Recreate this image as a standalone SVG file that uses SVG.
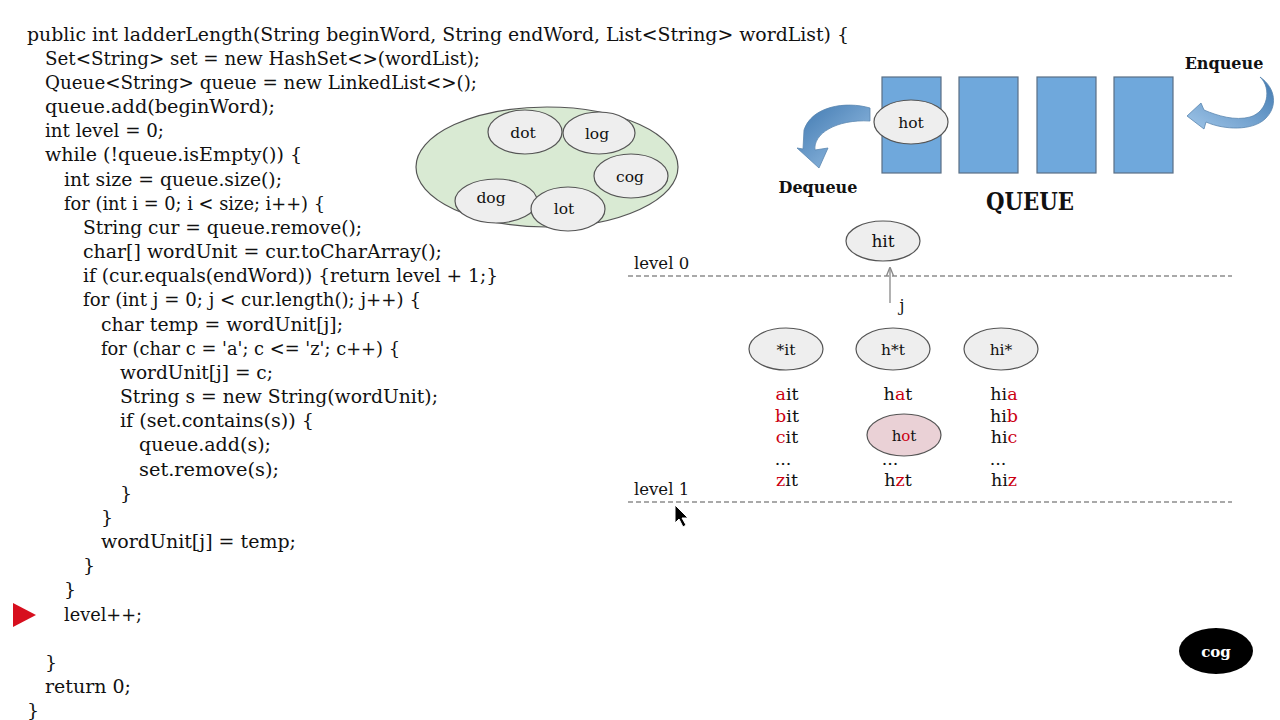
<svg xmlns="http://www.w3.org/2000/svg" width="1280" height="720" viewBox="0 0 1280 720">
<style>
.code{font-family:"DejaVu Serif","Liberation Serif",serif;font-size:19px;fill:#111}
.lbl{font-family:"DejaVu Serif","Liberation Serif",serif;fill:#111;text-anchor:middle}
.b{font-weight:bold}
.node{fill:#eeeeee;stroke:#555;stroke-width:1.2}
.box{fill:#6fa8dc;stroke:#5a6f85;stroke-width:1.2}
.dash{stroke:#555;stroke-width:1.2;stroke-dasharray:5 3;fill:none}
.r{fill:#cc0011}
</style>
<defs>
<linearGradient id="g1" x1="0" y1="0" x2="1" y2="1">
<stop offset="0" stop-color="#3f78b0"/><stop offset="1" stop-color="#9fc5e8"/>
</linearGradient>
<linearGradient id="g2" x1="1" y1="0" x2="0" y2="1">
<stop offset="0" stop-color="#3f78b0"/><stop offset="1" stop-color="#9fc5e8"/>
</linearGradient>
<marker id="ah" viewBox="0 0 10 10" refX="9" refY="5" markerWidth="7" markerHeight="7" orient="auto">
<path d="M0,1 L10,5 L0,9" fill="none" stroke="#888" stroke-width="1.5"/>
</marker>
</defs>
<rect width="1280" height="720" fill="#ffffff"/>

<g id="code">
<text class="code" x="27" y="40.5" textLength="822" lengthAdjust="spacingAndGlyphs">public int ladderLength(String beginWord, String endWord, List&lt;String&gt; wordList) {</text>
<text class="code" x="45" y="64.7" textLength="435" lengthAdjust="spacingAndGlyphs">Set&lt;String&gt; set = new HashSet&lt;&gt;(wordList);</text>
<text class="code" x="45" y="88.8" textLength="432" lengthAdjust="spacingAndGlyphs">Queue&lt;String&gt; queue = new LinkedList&lt;&gt;();</text>
<text class="code" x="45" y="113" textLength="230" lengthAdjust="spacingAndGlyphs">queue.add(beginWord);</text>
<text class="code" x="45" y="137.2" textLength="119" lengthAdjust="spacingAndGlyphs">int level = 0;</text>
<text class="code" x="45" y="161.4" textLength="257" lengthAdjust="spacingAndGlyphs">while (!queue.isEmpty()) {</text>
<text class="code" x="64" y="185.5" textLength="218" lengthAdjust="spacingAndGlyphs">int size = queue.size();</text>
<text class="code" x="64" y="209.7" textLength="261" lengthAdjust="spacingAndGlyphs">for (int i = 0; i &lt; size; i++) {</text>
<text class="code" x="83" y="233.9" textLength="279" lengthAdjust="spacingAndGlyphs">String cur = queue.remove();</text>
<text class="code" x="83" y="258" textLength="359" lengthAdjust="spacingAndGlyphs">char[] wordUnit = cur.toCharArray();</text>
<text class="code" x="83" y="282.2" textLength="415" lengthAdjust="spacingAndGlyphs">if (cur.equals(endWord)) {return level + 1;}</text>
<text class="code" x="83" y="306.4" textLength="338" lengthAdjust="spacingAndGlyphs">for (int j = 0; j &lt; cur.length(); j++) {</text>
<text class="code" x="101" y="330.5" textLength="242" lengthAdjust="spacingAndGlyphs">char temp = wordUnit[j];</text>
<text class="code" x="101" y="354.7" textLength="299" lengthAdjust="spacingAndGlyphs">for (char c = 'a'; c &lt;= 'z'; c++) {</text>
<text class="code" x="120" y="378.9" textLength="153" lengthAdjust="spacingAndGlyphs">wordUnit[j] = c;</text>
<text class="code" x="120" y="403.1" textLength="318" lengthAdjust="spacingAndGlyphs">String s = new String(wordUnit);</text>
<text class="code" x="120" y="427.2" textLength="194" lengthAdjust="spacingAndGlyphs">if (set.contains(s)) {</text>
<text class="code" x="139" y="451.4" textLength="132" lengthAdjust="spacingAndGlyphs">queue.add(s);</text>
<text class="code" x="139" y="475.5" textLength="140" lengthAdjust="spacingAndGlyphs">set.remove(s);</text>
<text class="code" x="120" y="499.7">}</text>
<text class="code" x="101" y="523.9">}</text>
<text class="code" x="101" y="548.1" textLength="195" lengthAdjust="spacingAndGlyphs">wordUnit[j] = temp;</text>
<text class="code" x="83" y="572.2">}</text>
<text class="code" x="64" y="596.4">}</text>
<text class="code" x="64" y="620.5" textLength="78" lengthAdjust="spacingAndGlyphs">level++;</text>
<text class="code" x="45" y="668.9">}</text>
<text class="code" x="45" y="693.1" textLength="86" lengthAdjust="spacingAndGlyphs">return 0;</text>
<text class="code" x="27" y="717.3">}</text>
</g>

<g id="pointer">
<polygon points="13,603 36,615 13,627" fill="#d70f1e"/>
</g>

<g id="wordSet">
<ellipse cx="547" cy="167" rx="131" ry="60" fill="#d9ead3" stroke="#555" stroke-width="1.2"/>
<g id="set-dot"><ellipse class="node" cx="525" cy="132" rx="37" ry="22"/><text class="lbl" x="523" y="138" font-size="15.5">dot</text></g>
<g id="set-log"><ellipse class="node" cx="599" cy="133" rx="36" ry="21"/><text class="lbl" x="597" y="139" font-size="15.5">log</text></g>
<g id="set-cog"><ellipse class="node" cx="631" cy="176" rx="37" ry="22"/><text class="lbl" x="630" y="182" font-size="15.5">cog</text></g>
<g id="set-dog"><ellipse class="node" cx="496" cy="201" rx="41" ry="22"/><text class="lbl" x="491" y="203" font-size="15.5">dog</text></g>
<g id="set-lot"><ellipse class="node" cx="568" cy="209" rx="37" ry="22"/><text class="lbl" x="564" y="214" font-size="15.5">lot</text></g>
</g>

<g id="queue">
<rect class="box" x="882" y="77" width="59" height="96"/>
<rect class="box" x="959" y="77" width="59" height="96"/>
<rect class="box" x="1037" y="77" width="59" height="96"/>
<rect class="box" x="1114" y="77" width="59" height="96"/>
<text class="lbl b" x="1030" y="210" font-size="25" textLength="88" lengthAdjust="spacingAndGlyphs">QUEUE</text>
</g>
<g id="queue-hot"><ellipse class="node" cx="911" cy="122" rx="37" ry="22"/><text class="lbl" x="911" y="128" font-size="15.5">hot</text></g>

<g id="dequeue">
<path d="M870,108 C846,101 812,106 804,130 L803,149 L797,148 L819,168 L828,148 L815,150 C813,134 836,119 870,121 Z" fill="url(#g1)" stroke="#5b86b0" stroke-width="0.8"/>
<text class="lbl b" x="818" y="193" font-size="16">Dequeue</text>
</g>
<g id="enqueue">
<path d="M1260,77 C1272,88 1268,112 1250,117 C1235,121 1218,116 1204,110 L1201,103 L1187,116 L1204,129 L1206,122 C1224,130 1252,131 1265,119 C1278,107 1276,88 1260,77 Z" fill="url(#g2)" stroke="#5b86b0" stroke-width="0.8"/>
<text class="lbl b" x="1224" y="69" font-size="16">Enqueue</text>
</g>

<g id="levels">
<text class="lbl" x="634" y="269" font-size="16.5" style="text-anchor:start">level 0</text>
<line class="dash" x1="628" y1="276" x2="1232" y2="276"/>
<text class="lbl" x="634" y="495" font-size="16.5" style="text-anchor:start">level 1</text>
<line class="dash" x1="628" y1="502" x2="1232" y2="502"/>
</g>

<g id="connectors">
<line x1="890" y1="303" x2="890" y2="268" stroke="#888" stroke-width="1.3" marker-end="url(#ah)"/>
<text class="lbl" x="902" y="311" font-size="16">j</text>
</g>

<g id="hit"><ellipse class="node" cx="883" cy="241" rx="37" ry="20"/><text class="lbl" x="883" y="247" font-size="17">hit</text></g>
<g id="pat1"><ellipse class="node" cx="786" cy="349" rx="37" ry="21"/><text class="lbl" x="786" y="355" font-size="15.5">*it</text></g>
<g id="pat2"><ellipse class="node" cx="893" cy="349" rx="37" ry="21"/><text class="lbl" x="893" y="355" font-size="15.5">h*t</text></g>
<g id="pat3"><ellipse class="node" cx="1001" cy="349" rx="37" ry="21"/><text class="lbl" x="1001" y="355" font-size="15.5">hi*</text></g>

<g id="col1" font-size="17.5">
<text class="lbl" x="787" y="400"><tspan class="r">a</tspan>it</text>
<text class="lbl" x="787" y="422"><tspan class="r">b</tspan>it</text>
<text class="lbl" x="787" y="443"><tspan class="r">c</tspan>it</text>
<text class="lbl" x="783" y="465">...</text>
<text class="lbl" x="787" y="486"><tspan class="r">z</tspan>it</text>
</g>
<g id="col2" font-size="17.5">
<text class="lbl" x="898" y="400">h<tspan class="r">a</tspan>t</text>
<text class="lbl" x="890" y="465">...</text>
<text class="lbl" x="898" y="486">h<tspan class="r">z</tspan>t</text>
</g>
<g id="col2-hot"><ellipse cx="904" cy="435" rx="37" ry="21" fill="#ead1d6" stroke="#555" stroke-width="1.2"/><text class="lbl" x="904" y="441" font-size="15">h<tspan class="r">o</tspan>t</text></g>
<g id="col3" font-size="17.5">
<text class="lbl" x="1004" y="400">hi<tspan class="r">a</tspan></text>
<text class="lbl" x="1004" y="422">hi<tspan class="r">b</tspan></text>
<text class="lbl" x="1004" y="443">hi<tspan class="r">c</tspan></text>
<text class="lbl" x="998" y="465">...</text>
<text class="lbl" x="1004" y="486">hi<tspan class="r">z</tspan></text>
</g>

<g id="cog-black"><ellipse cx="1216" cy="651" rx="37" ry="23" fill="#000"/><text class="lbl b" x="1216" y="657" font-size="15" style="fill:#fff">cog</text></g>

<g id="cursor">
<polygon points="675,505 675,523 679,519 683,527 686,525 682,518 688,518" fill="#000" stroke="#fff" stroke-width="1"/>
</g>
</svg>
